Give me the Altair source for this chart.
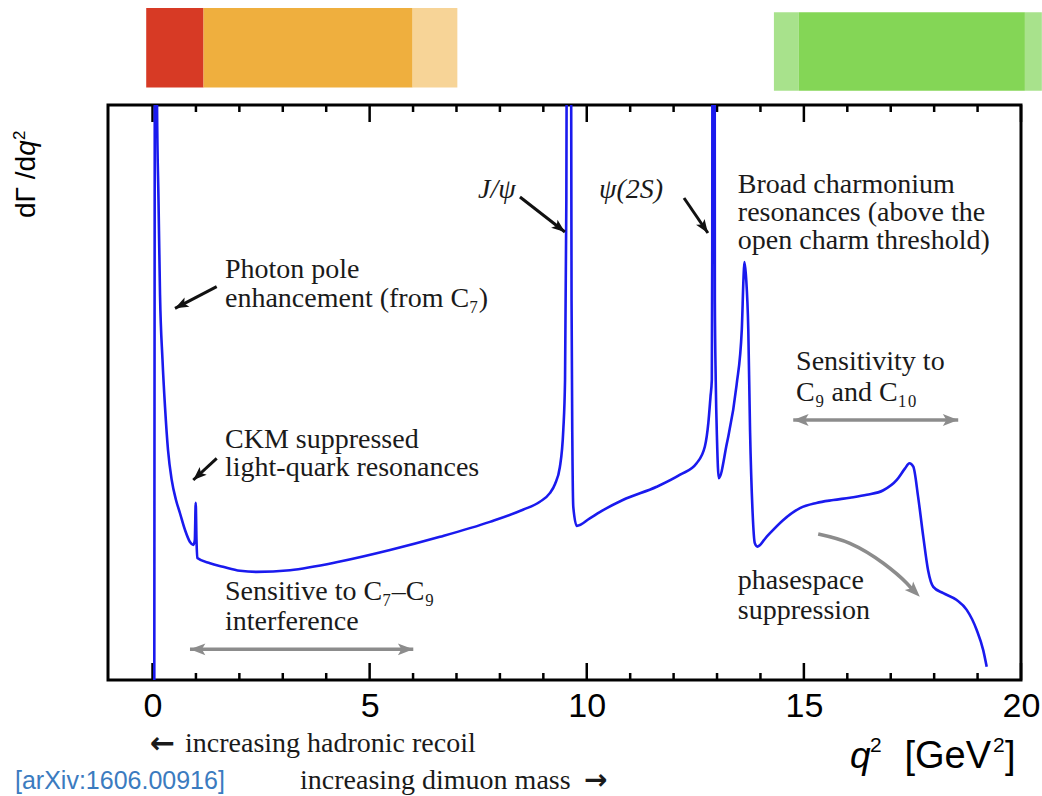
import altair as alt
import pandas as pd

# ---------------- curve (q^2 in GeV^2, rate in % of plot height) ----------------
q2 = [0.041, 0.055, 0.08, 0.095, 0.104, 0.138, 0.173, 0.23, 0.288, 0.357, 0.442, 0.541,
      0.633, 0.748, 0.863, 0.939, 0.974, 0.995, 1.013, 1.032, 1.324, 1.623, 2.015, 2.40,
      3.166, 4.317, 5.469, 6.62, 7.77, 8.53, 8.92, 9.15, 9.27, 9.38, 9.46, 9.50, 9.53,
      9.545, 9.59, 9.635, 9.65, 9.67, 9.69, 9.77, 10.07, 10.30, 10.83, 11.61, 12.15, 12.53,
      12.72, 12.80, 12.85, 12.88, 12.89, 12.895, 12.92, 12.945, 12.95, 12.97, 13.0, 13.04,
      13.22, 13.45, 13.57, 13.61, 13.63, 13.67, 13.72, 13.76, 13.82, 13.87, 13.93, 14.14,
      14.52, 14.91, 15.29, 15.68, 16.06, 16.45, 16.83, 17.14, 17.33, 17.43, 17.52, 17.63,
      17.75, 17.86, 17.98, 18.21, 18.52, 18.75, 18.98, 19.13, 19.21]
rate = [0, 130, 250, 130, 100, 83.5, 67.0, 55.7, 47.5, 40.0, 34.8, 31.3,
        29.0, 26.1, 24.0, 23.5, 24.3, 30.8, 24.3, 21.2, 20.3, 19.7, 19.0, 18.8,
        19.1, 20.6, 22.6, 24.9, 27.5, 29.6, 31.0, 32.5, 34.1, 37.0, 43.5, 52.2, 83.5,
        130, 250, 130, 66, 40, 30.1, 26.8, 28.1, 29.2, 31.3, 33.6, 35.7, 37.7,
        40.6, 44.7, 49.3, 52.2, 74.8, 130, 250, 130, 66.1, 52.2, 41.7, 35.1,
        40.9, 51.3, 60.9, 69.9, 72.7, 69.9, 60.9, 43.5, 29.0, 23.8, 23.2, 24.9,
        27.8, 29.9, 30.8, 31.3, 31.7, 32.2, 33.0, 34.8, 36.8, 37.7, 37.1, 31.9,
        24.9, 19.1, 16.2, 15.1, 13.9, 12.2, 8.7, 5.2, 2.3]
assert len(q2) == len(rate)

# ---------------- coloured q^2 bins above the plot ----------------
warm_start = [-0.145, 1.175, 5.99]
warm_end = [1.175, 5.99, 7.02]
warm_color = ["#d73a25", "#efaf3e", "#f7d497"]
green_start = [14.31, 14.88, 20.09]
green_end = [14.88, 20.09, 20.48]
green_color = ["#a8e28c", "#84d656", "#a8e28c"]

# ---------------- ticks ----------------
major_ticks = [0, 5, 10, 15, 20]
minor_ticks = [1, 2, 3, 4, 6, 7, 8, 9, 11, 12, 13, 14, 16, 17, 18, 19]

# ---------------- annotations ----------------
note_text = ["Photon pole", "enhancement (from C₇)", "CKM suppressed", "light-quark resonances",
             "Sensitive to C₇–C₉", "interference", "Broad charmonium", "resonances (above the",
             "open charm threshold)", "Sensitivity to", "C₉ and C₁₀", "phasespace", "suppression"]
note_x = [1.669, 1.669, 1.669, 1.669, 1.669, 1.669, 13.48, 13.48, 13.48, 14.82, 14.82, 13.48, 13.48]
note_y = [71.3, 66.26, 41.74, 36.87, 15.3, 10.09, 86.09, 81.22, 76.35, 55.3, 49.91, 17.3, 12.0]

peak_text = ["J/ψ", "ψ(2S)"]
peak_x = [7.93, 11.02]
peak_y = [85.22, 85.22]

# black arrows: start -> tip
arr_x0 = [1.478, 1.478, 8.462, 12.24]
arr_y0 = [68.4, 38.56, 84.0, 83.83]
arr_x1 = [0.518, 0.939, 9.498, 12.79]
arr_y1 = [64.64, 34.78, 77.91, 77.74]
arr_ang = [242.6, 227.2, 127.9, 145.6]

# grey double arrows
dbl_x0 = [0.863, 14.755]
dbl_x1 = [6.005, 18.554]
dbl_y = [5.34, 45.22]

# grey curved arrow (phase-space suppression)
curve_arrow_x = [15.33, 16.06, 16.83, 17.37, 17.51]
curve_arrow_y = [25.39, 23.77, 20.30, 16.82, 15.65]
curve_tip = (17.67, 14.49, 135.0)

W, H = 913, 575
SERIF = "Liberation Serif"
SANS = "Liberation Sans"
GREY = "#8c8c8c"
INK = "#1a1a1a"
HEAD = "M0,0L0.5,1.3L0,1L-0.5,1.3Z"

xs = alt.Scale(domain=[-1.025, 20], nice=False, zero=False)
ys = alt.Scale(domain=[0, 100], nice=False, zero=False)
X = alt.X("q2:Q", scale=xs, axis=alt.Axis(values=major_ticks, ticks=False, domain=False, grid=False,
                                           labelFontSize=34, labelFont=SANS, labelColor="black",
                                           labelPadding=9, labelFlush=False, labelOverlap=False,
                                           title=None))
Y = alt.Y("rate:Q", scale=ys, axis=None)

layers = []

# coloured bins
warm = pd.DataFrame({"q2": warm_start, "q2_end": warm_end, "c": warm_color})
layers.append(alt.Chart(warm).mark_rect().encode(
    x=X, x2="q2_end:Q", y=alt.value(-97), y2=alt.value(-17.5), color=alt.Color("c:N", scale=None)))
green = pd.DataFrame({"q2": green_start, "q2_end": green_end, "c": green_color})
layers.append(alt.Chart(green).mark_rect().encode(
    x=X, x2="q2_end:Q", y=alt.value(-92.7), y2=alt.value(-14.3), color=alt.Color("c:N", scale=None)))

# ticks (inward, top and bottom)
for vals, ln in ((major_ticks, 17), (minor_ticks, 7)):
    d = pd.DataFrame({"q2": vals})
    layers.append(alt.Chart(d).mark_rule(color="black", strokeWidth=2.5).encode(
        x=X, y=alt.value(H), y2=alt.value(H - ln)))
    layers.append(alt.Chart(d).mark_rule(color="black", strokeWidth=2.5).encode(
        x=X, y=alt.value(0), y2=alt.value(ln)))

# the spectrum
cdf = pd.DataFrame({"q2": q2, "rate": rate, "i": list(range(len(q2)))})
layers.append(alt.Chart(cdf).mark_line(color="#1a1aee", strokeWidth=2.6, clip=True,
                                       interpolate="monotone").encode(x=X, y=Y, order="i:Q"))

# annotation text
ndf = pd.DataFrame({"q2": note_x, "rate": note_y, "t": note_text})
layers.append(alt.Chart(ndf).mark_text(align="left", baseline="middle", font=SERIF, fontSize=28,
                                       color=INK).encode(x=X, y=Y, text="t:N"))
pdf = pd.DataFrame({"q2": peak_x, "rate": peak_y, "t": peak_text})
layers.append(alt.Chart(pdf).mark_text(align="center", baseline="middle", font=SERIF, fontSize=28,
                                       fontStyle="italic", color=INK).encode(x=X, y=Y, text="t:N"))

# black arrows
adf = pd.DataFrame({"q2": arr_x0, "rate": arr_y0, "q2_end": arr_x1, "rate_end": arr_y1})
layers.append(alt.Chart(adf).mark_rule(color="#111111", strokeWidth=3).encode(
    x=X, y=Y, x2="q2_end:Q", y2="rate_end:Q"))
hdf = pd.DataFrame({"q2": arr_x1, "rate": arr_y1, "ang": arr_ang})
layers.append(alt.Chart(hdf).mark_point(shape=HEAD, filled=True, size=430, color="#111111",
                                        opacity=1, strokeWidth=0).encode(
    x=X, y=Y, angle=alt.Angle("ang:Q", scale=None)))

# grey double arrows
ddf = pd.DataFrame({"q2": dbl_x0, "q2_end": dbl_x1, "rate": dbl_y})
layers.append(alt.Chart(ddf).mark_rule(color=GREY, strokeWidth=3.5).encode(x=X, x2="q2_end:Q", y=Y))
dh = pd.DataFrame({"q2": dbl_x0 + dbl_x1, "rate": dbl_y + dbl_y, "ang": [270, 270, 90, 90]})
layers.append(alt.Chart(dh).mark_point(shape=HEAD, filled=True, size=560, color=GREY, opacity=1,
                                       strokeWidth=0).encode(x=X, y=Y, angle=alt.Angle("ang:Q", scale=None)))

# grey curved arrow
cadf = pd.DataFrame({"q2": curve_arrow_x, "rate": curve_arrow_y, "i": list(range(len(curve_arrow_x)))})
layers.append(alt.Chart(cadf).mark_line(color=GREY, strokeWidth=3.5, interpolate="monotone").encode(
    x=X, y=Y, order="i:Q"))
ctdf = pd.DataFrame({"q2": [curve_tip[0]], "rate": [curve_tip[1]], "ang": [curve_tip[2]]})
layers.append(alt.Chart(ctdf).mark_point(shape=HEAD, filled=True, size=560, color=GREY, opacity=1,
                                         strokeWidth=0).encode(x=X, y=Y, angle=alt.Angle("ang:Q", scale=None)))


def label(text, px, py, size, font=SANS, style="normal", align="left", angle=0, color="black",
          weight="normal", baseline="alphabetic"):
    kw = dict(align=align, baseline=baseline, font=font, fontSize=size, fontStyle=style, color=color,
              fontWeight=weight)
    if angle:
        kw["angle"] = angle
    return alt.Chart(pd.DataFrame({"t": [text]})).mark_text(**kw).encode(
        x=alt.value(px), y=alt.value(py), text="t:N")


# y-axis title  dΓ/dq²  (rotated)
layers.append(label("dΓ /d", -73, 113, 28, angle=270))
layers.append(label("q", -73, 50.7, 28, style="italic", angle=270))
layers.append(label("2", -83, 35, 17, angle=270))

# x-axis title  q² [GeV²]
layers.append(label("q", 742, 663, 37, style="italic"))
layers.append(label("2", 762, 647, 21))
layers.append(label("[GeV", 883, 663, 38, align="right"))
layers.append(label("2", 885, 647, 21))
layers.append(label("]", 897, 663, 38))

# notes below axis
layers.append(label("←", 42, 648, 30, font="DejaVu Sans", weight="bold", color=INK))
layers.append(label("increasing hadronic recoil", 77, 647, 28, font=SERIF, color=INK))
layers.append(label("increasing dimuon mass", 192, 684, 28, font=SERIF, color=INK))
layers.append(label("→", 476, 684, 28, font="DejaVu Sans", weight="bold", color=INK))
layers.append(label("[arXiv:1606.00916]", -93, 684, 25, color="#3b7bbf"))

chart = alt.layer(*layers).properties(
    width=W, height=H,
    autosize=alt.AutoSizeParams(type="none"),
    padding={"left": 108, "top": 105, "right": 21, "bottom": 116},
    background="white",
).configure_view(stroke="black", strokeWidth=3)

chart.save("out.html", embed_options={"renderer": "svg", "actions": False})
